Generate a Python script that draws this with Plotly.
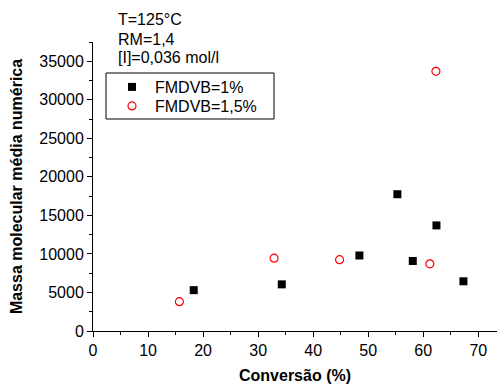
import plotly.graph_objects as go

conv_1 = [18.3, 34.3, 48.4, 55.3, 58.1, 62.4, 67.3]
mn_1 = [5300, 6050, 9800, 17750, 9080, 13700, 6450]
conv_15 = [15.7, 32.9, 44.8, 61.2, 62.3]
mn_15 = [3800, 9450, 9250, 8720, 33700]
notes = ["T=125°C", "RM=1,4", "[I]=0,036 mol/l"]

FONT = "Liberation Sans, Arial, sans-serif"
L, T, PW, PH = 93, 42, 404, 289


def px(xp):
    return (xp - L) / PW


def py(yp):
    return (T + PH - yp) / PH


fig = go.Figure()
fig.add_trace(go.Scatter(x=conv_1, y=mn_1, mode="markers", name="FMDVB=1%", legend="legend",
                         marker=dict(symbol="square", size=8, color="black")))
fig.add_trace(go.Scatter(x=conv_15, y=mn_15, mode="markers", name="FMDVB=1,5%", legend="legend2",
                         marker=dict(symbol="circle-open", size=8, color="red",
                                     line=dict(width=1.2, color="red"))))

leg = dict(xanchor="left", yanchor="middle", borderwidth=0, bgcolor="rgba(0,0,0,0)",
           font=dict(size=16), itemwidth=36)

fig.update_layout(
    width=497, height=384,
    margin=dict(l=L, r=0, t=T, b=384 - T - PH),
    paper_bgcolor="white", plot_bgcolor="white",
    font=dict(family=FONT, size=16, color="black"),
    showlegend=True,
    legend=dict(x=px(109), y=py(87), **leg),
    legend2=dict(x=px(109), y=py(106), **leg),
    xaxis=dict(range=[0, 73.4], dtick=10, tick0=0, showgrid=False, zeroline=False,
               showline=True, linecolor="black", linewidth=1, automargin=False,
               ticks="outside", ticklen=5, tickcolor="black",
               minor=dict(dtick=5, ticks="outside", ticklen=3, tickcolor="black"),
               title=dict(text="<b>Conversão (%)</b>", font=dict(size=16), standoff=12)),
    yaxis=dict(range=[0, 37500], dtick=5000, tick0=0, showgrid=False, zeroline=False,
               showline=True, linecolor="black", linewidth=1, automargin=False,
               tickformat="d",
               ticks="outside", ticklen=5, tickcolor="black",
               minor=dict(dtick=2500, ticks="outside", ticklen=3, tickcolor="black"),
               title=dict(text="<b>Massa molecular média numérica</b>", font=dict(size=16), standoff=12)),
)

fig.add_shape(type="rect", xref="paper", yref="paper",
              x0=px(106), x1=px(274), y0=py(119), y1=py(73),
              line=dict(color="black", width=1), fillcolor="rgba(0,0,0,0)")

for i, t in enumerate(notes):
    fig.add_annotation(text=t, xref="paper", yref="paper",
                       x=px(116), y=py(20 + 19 * i),
                       xanchor="left", yanchor="middle", showarrow=False,
                       font=dict(size=16))

fig.write_html("out.html", config={"displayModeBar": False},
               post_script="document.body.style.margin='0px';")
